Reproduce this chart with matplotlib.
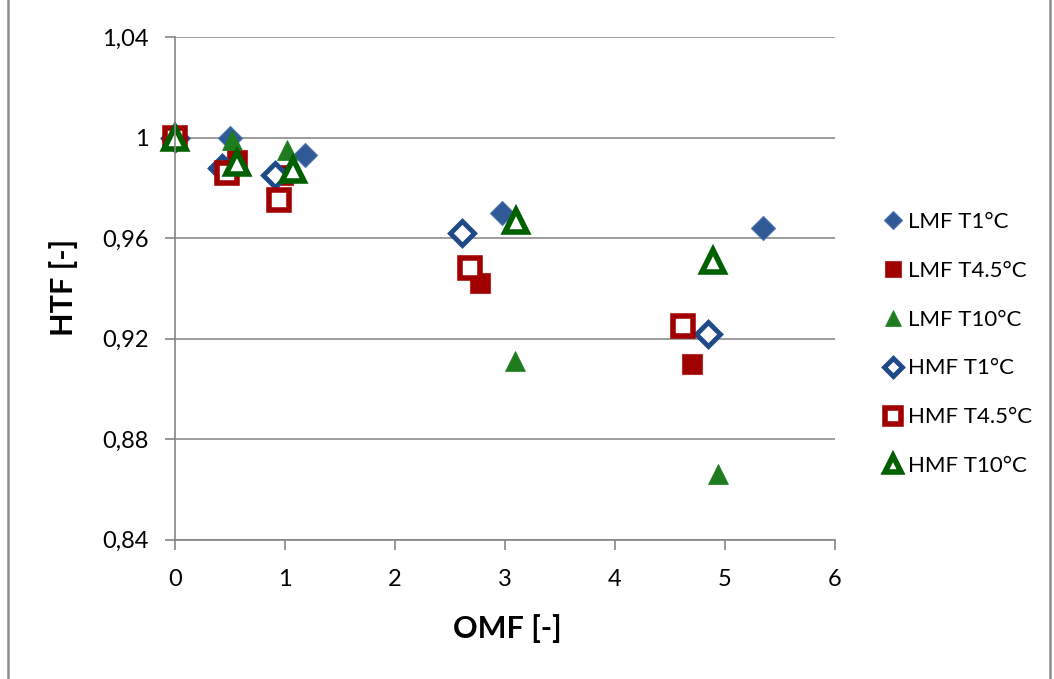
import matplotlib.pyplot as plt
from matplotlib.patches import Rectangle

# OMF [-] / HTF [-] values
lmf_t1_x = [0, 0.50, 1.18, 2.97, 5.35]
lmf_t1_y = [1.000, 1.000, 0.993, 0.970, 0.964]
lmf_t45_x = [0, 0.56, 0.98, 2.77, 4.70]
lmf_t45_y = [1.000, 0.991, 0.985, 0.942, 0.910]
lmf_t10_x = [0, 0.52, 1.02, 3.09, 4.94]
lmf_t10_y = [1.000, 0.999, 0.995, 0.911, 0.866]
hmf_t1_x = [0, 0.43, 0.91, 2.61, 4.85]
hmf_t1_y = [1.000, 0.988, 0.985, 0.962, 0.922]
hmf_t45_x = [0, 0.47, 0.95, 2.68, 4.62]
hmf_t45_y = [1.000, 0.986, 0.975, 0.948, 0.925]
hmf_t10_x = [0, 0.56, 1.07, 3.10, 4.89]
hmf_t10_y = [1.000, 0.990, 0.987, 0.967, 0.951]

x_ticks = [0, 1, 2, 3, 4, 5, 6]
y_ticks = [0.84, 0.88, 0.92, 0.96, 1.00, 1.04]
y_tick_labels = ['0,84', '0,88', '0,92', '0,96', '1', '1,04']

blue = '#2F5A96'
red = '#A00000'
green = '#1E7B1E'
dkgreen = '#006000'

plt.rcParams['font.family'] = ['Lato', 'DejaVu Sans']

fig = plt.figure(figsize=(10.54, 6.79), dpi=100)
ax = fig.add_axes([0.166, 0.205, 0.626, 0.7405])

kw = dict(ls='none', clip_on=False)
ax.plot(lmf_t1_x, lmf_t1_y, 'D', ms=12, color=blue, mec='#4A74B0', mew=0.8, label='LMF T1°C', **kw)
ax.plot(lmf_t45_x, lmf_t45_y, 's', ms=15, color=red, mec='#B03030', mew=0.8, label='LMF T4.5°C', **kw)
ax.plot(lmf_t10_x, lmf_t10_y, '^', ms=15, color=green, mec=green, mew=0.5, label='LMF T10°C', **kw)
ax.plot(hmf_t1_x, hmf_t1_y, 'D', ms=12, mfc='white', mec='#1F4A87', mew=3.5, label='HMF T1°C', **kw)
ax.plot(hmf_t45_x, hmf_t45_y, 's', ms=15, mfc='white', mec=red, mew=4, label='HMF T4.5°C', **kw)
ax.plot(hmf_t10_x, hmf_t10_y, '^', ms=16, mfc='white', mec=dkgreen, mew=4, label='HMF T10°C', **kw)

ax.set_xlim(0, 6)
ax.set_ylim(0.84, 1.04)
ax.set_xticks(x_ticks)
ax.set_yticks(y_ticks)
ax.set_yticklabels(y_tick_labels)
ax.tick_params(labelsize=17, length=7, width=1.2, color='#868686', direction='out', pad=12)
ax.tick_params(axis='x', pad=14)
ax.grid(axis='y', color='#8C8C8C', lw=1.2)
ax.set_axisbelow(True)
for s in ['top', 'right']:
    ax.spines[s].set_visible(False)
for s in ['left', 'bottom']:
    ax.spines[s].set_color('#868686')
    ax.spines[s].set_linewidth(1.2)

ax.set_xlabel('OMF [-]', fontsize=22, fontweight='bold')
ax.set_ylabel('HTF [-]', fontsize=22, fontweight='bold')
ax.xaxis.set_label_coords(0.503, -0.148)
ax.yaxis.set_label_coords(-0.147, 0.501)

leg = fig.legend(loc='center left', bbox_to_anchor=(0.816, 0.4934), frameon=False,
                 fontsize=16, labelspacing=1.30, handletextpad=0.05,
                 handlelength=1.2, markerscale=0.75)

fig.patches.append(Rectangle((0.008, -0.01), 0.988, 1.02, transform=fig.transFigure,
                             fill=False, ec='#8C8C8C', lw=1.8))

fig.savefig('out.png', dpi=100)
